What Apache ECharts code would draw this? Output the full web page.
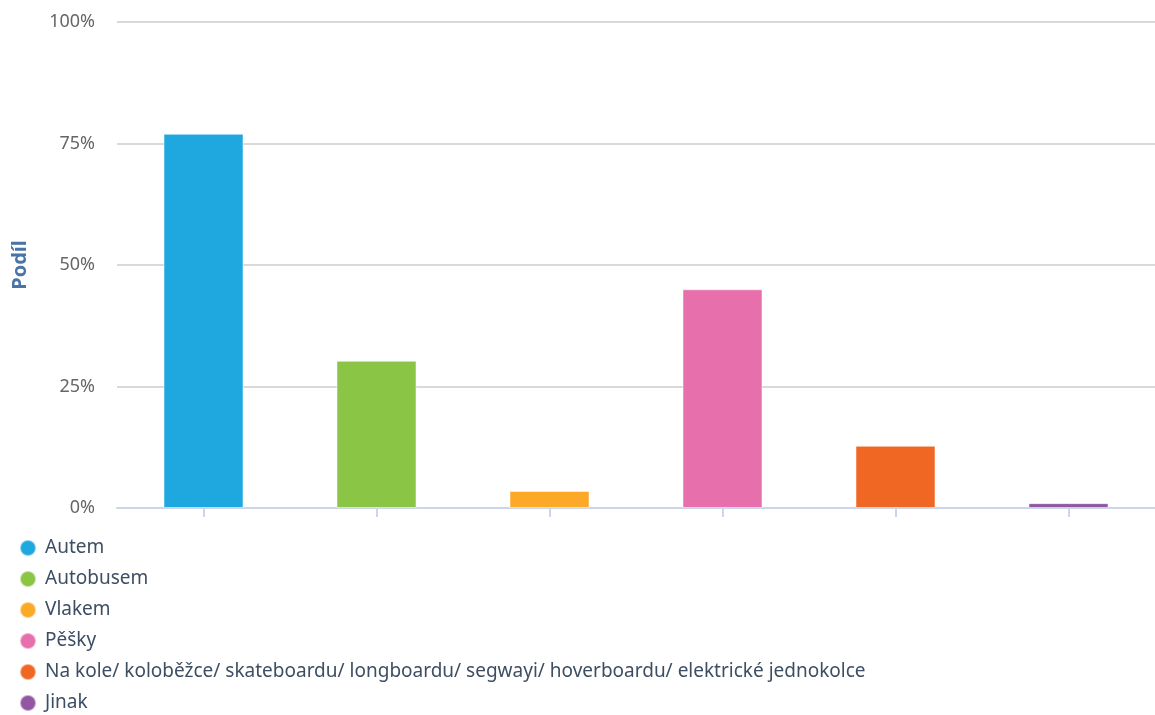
<!DOCTYPE html>
<html>
<head>
<meta charset="utf-8">
<script src="https://cdn.jsdelivr.net/npm/echarts@6/dist/echarts.min.js"></script>
<style>
  html, body { margin: 0; padding: 0; background: #fff; }
  #chart { width: 1155px; height: 715px; }
</style>
</head>
<body>
<div id="chart"></div>
<script>
// Způsob dopravy – podíl odpovědí v procentech
const categories = [
  'Autem',
  'Autobusem',
  'Vlakem',
  'Pěšky',
  'Na kole/ koloběžce/ skateboardu/ longboardu/ segwayi/ hoverboardu/ elektrické jednokolce',
  'Jinak'
];
const shares = [77, 30.3, 3.5, 45, 12.8, 1];
const colors = ['#1fa8e0', '#8bc546', '#fba926', '#e76fab', '#f06724', '#9157a2'];
const yTicks = [0, 25, 50, 75, 100];

const FONT = '"Noto Sans", sans-serif';

// One series per category so each appears in the legend; stacking keeps every bar centred on its tick.
const series = categories.map((name, i) => ({
  name,
  type: 'bar',
  stack: 'all',
  barWidth: 80,
  itemStyle: { color: colors[i], borderColor: 'rgba(255,255,255,0.5)', borderWidth: 1 },
  data: categories.map((_, j) => (j === i ? shares[i] : null))
}));

const chart = echarts.init(document.getElementById('chart'));
chart.setOption({
  animation: false,
  color: colors,
  grid: {
    left: 117, right: 0, top: 22, bottom: 207,
    containLabel: false, outerBoundsMode: 'none'
  },
  legend: {
    orient: 'vertical',
    left: 19,
    top: 537,
    height: 178,
    padding: 0,
    itemGap: 9,
    itemWidth: 16,
    itemHeight: 16,
    icon: 'circle',
    textStyle: {
      fontFamily: FONT, fontSize: 19, lineHeight: 22, color: '#3d4e63',
      padding: [0, 0, 0, 4]
    },
    data: categories
  },
  xAxis: {
    type: 'category',
    data: categories,
    axisLine: { lineStyle: { color: '#ccd6eb', width: 2 } },
    axisTick: { show: true, alignWithLabel: true, interval: 0, length: 9, lineStyle: { color: '#ccd6eb', width: 2 } },
    axisLabel: { show: false, interval: 0 }
  },
  yAxis: {
    type: 'value',
    min: yTicks[0],
    max: yTicks[yTicks.length - 1],
    interval: yTicks[1] - yTicks[0],
    name: 'Podíl',
    nameLocation: 'middle',
    nameGap: 87,
    nameRotate: 90,
    nameTextStyle: { fontFamily: FONT, fontSize: 20, fontWeight: 'bold', color: '#4a74a5' },
    axisLabel: {
      formatter: '{value}%',
      fontFamily: FONT,
      fontSize: 18,
      color: '#666',
      margin: 22
    },
    splitLine: { lineStyle: { color: '#cccccc', width: 1.5 } }
  },
  series
});
</script>
</body>
</html>
